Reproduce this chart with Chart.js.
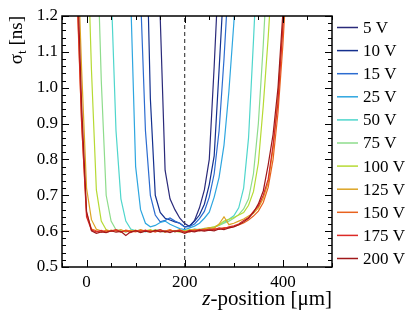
<!DOCTYPE html>
<html>
<head>
<meta charset="utf-8">
<script src="https://cdn.jsdelivr.net/npm/chart.js@4.4.1/dist/chart.umd.min.js"></script>
<style>
  html, body { margin: 0; padding: 0; background: #fff; }
  #wrap { width: 415px; height: 318px; }
</style>
</head>
<body>
<div id="wrap"><canvas id="chart" width="415" height="318"></canvas></div>
<script>
// z grid in um, shared by all bias voltages
const zPos = [-40, -30, -20, -10, 0, 10, 20, 30, 40, 50,
  60, 70, 80, 90, 100, 110, 120, 130, 140, 150,
  160, 170, 180, 190, 200, 210, 220, 230, 240, 250,
  260, 270, 280, 290, 300, 310, 320, 330, 340, 350,
  360, 370, 380, 390, 400, 410, 420, 430, 440];

const labels = ['5 V', '10 V', '15 V', '25 V', '50 V', '75 V', '100 V', '125 V', '150 V', '175 V', '200 V'];
const colors = ['#2a2a7a', '#14308e', '#2c6cd0', '#2ea6e0', '#4fd6cc', '#8edc8c', '#b6da34', '#dca424', '#e8621e', '#dc2a26', '#a0181a'];

// sigma_t [ns]
const v5 = [null, null, null, null, null, null, null, null, null, null,
  null, null, null, null, null, null, null, 2.3, 1.77, 1.2,
  0.77, 0.69, 0.66, 0.636, 0.621, 0.613, 0.630, 0.665, 0.715, 0.80,
  1.06, 1.35, 1.7, null, null, null, null, null, null, null,
  null, null, null, null, null, null, null, null, null];
const v10 = [null, null, null, null, null, null, null, null, null, null,
  null, null, null, null, null, 2.0, 1.55, 0.97, 0.70, 0.652,
  0.636, 0.631, 0.626, 0.622, 0.612, 0.615, 0.628, 0.645, 0.675, 0.73,
  0.81, 1.05, 1.3, 1.6, null, null, null, null, null, null,
  null, null, null, null, null, null, null, null, null];
const v15 = [null, null, null, null, null, null, null, null, null, null,
  null, null, null, null, 1.65, 1.26, 0.88, 0.70, 0.645, 0.626,
  0.630, 0.637, 0.628, 0.622, 0.611, 0.613, 0.620, 0.635, 0.655, 0.695,
  0.76, 0.88, 1.08, 1.32, 1.6, null, null, null, null, null,
  null, null, null, null, null, null, null, null, null];
const v25 = [null, null, null, null, null, null, null, null, null, null,
  null, null, 1.68, 1.25, 0.78, 0.66, 0.622, 0.612, 0.616, 0.624,
  0.628, 0.619, 0.613, 0.607, 0.604, 0.609, 0.614, 0.622, 0.636, 0.653,
  0.695, 0.75, 0.84, 0.99, 1.18, 1.4, 1.65, null, null, null,
  null, null, null, null, null, null, null, null, null];
const v50 = [null, null, null, null, null, null, null, null, 1.7, 1.28,
  0.88, 0.69, 0.628, 0.606, 0.601, 0.603, 0.598, 0.602, 0.600, 0.604,
  0.599, 0.602, 0.598, 0.603, 0.600, 0.603, 0.606, 0.604, 0.608, 0.607,
  0.611, 0.617, 0.624, 0.633, 0.643, 0.665, 0.72, 0.86, 1.13, 1.42,
  1.75, null, null, null, null, null, null, null, null];
const v75 = [null, null, null, null, null, 2.0, 1.48, 1.02, 0.70, 0.628,
  0.604, 0.601, 0.597, 0.603, 0.600, 0.598, 0.602, 0.599, 0.604, 0.600,
  0.597, 0.602, 0.599, 0.603, 0.596, 0.601, 0.604, 0.602, 0.606, 0.609,
  0.611, 0.616, 0.622, 0.628, 0.636, 0.646, 0.662, 0.69, 0.76, 0.90,
  1.12, 1.38, 1.7, null, null, null, null, null, null];
const v100 = [null, null, null, 2.0, 1.5, 1.05, 0.715, 0.628, 0.604, 0.600,
  0.603, 0.598, 0.602, 0.599, 0.603, 0.597, 0.601, 0.604, 0.599, 0.602,
  0.598, 0.603, 0.600, 0.597, 0.601, 0.604, 0.602, 0.606, 0.604, 0.609,
  0.612, 0.618, 0.628, 0.633, 0.638, 0.645, 0.652, 0.672, 0.710, 0.79,
  0.95, 1.14, 1.36, 1.62, null, null, null, null, null];
const v125 = [2.3, 1.85, 1.45, 1.05, 0.72, 0.632, 0.605, 0.601, 0.598, 0.603,
  0.600, 0.604, 0.598, 0.602, 0.599, 0.604, 0.600, 0.597, 0.603, 0.601,
  0.598, 0.602, 0.600, 0.604, 0.598, 0.602, 0.605, 0.603, 0.607, 0.610,
  0.608, 0.620, 0.640, 0.618, 0.622, 0.628, 0.634, 0.642, 0.650, 0.665,
  0.692, 0.735, 0.83, 0.98, 1.18, 1.43, 1.75, null, null];
const v150 = [2.1, 1.7, 1.28, 0.9, 0.65, 0.606, 0.601, 0.597, 0.603, 0.599,
  0.602, 0.597, 0.603, 0.600, 0.598, 0.603, 0.599, 0.602, 0.597, 0.603,
  0.600, 0.604, 0.598, 0.601, 0.599, 0.597, 0.603, 0.601, 0.605, 0.603,
  0.607, 0.605, 0.610, 0.609, 0.613, 0.617, 0.623, 0.631, 0.642, 0.656,
  0.680, 0.722, 0.80, 0.93, 1.12, 1.36, 1.65, null, null];
const v175 = [2.1, 1.72, 1.3, 0.9, 0.64, 0.603, 0.598, 0.602, 0.597, 0.600,
  0.604, 0.598, 0.601, 0.596, 0.602, 0.599, 0.603, 0.598, 0.600, 0.604,
  0.597, 0.601, 0.599, 0.603, 0.597, 0.602, 0.600, 0.604, 0.602, 0.606,
  0.604, 0.609, 0.607, 0.612, 0.615, 0.620, 0.630, 0.638, 0.655, 0.670,
  0.700, 0.745, 0.84, 0.96, 1.17, 1.42, 1.72, null, null];
const v200 = [2.2, 1.8, 1.37, 0.95, 0.655, 0.601, 0.594, 0.598, 0.596, 0.601,
  0.597, 0.599, 0.588, 0.598, 0.601, 0.596, 0.600, 0.597, 0.602, 0.598,
  0.600, 0.596, 0.601, 0.599, 0.594, 0.600, 0.598, 0.602, 0.600, 0.603,
  0.601, 0.606, 0.604, 0.609, 0.612, 0.618, 0.626, 0.636, 0.652, 0.676,
  0.712, 0.785, 0.87, 1.0, 1.21, 1.45, 1.75, null, null];

const allSeries = [v5, v10, v15, v25, v50, v75, v100, v125, v150, v175, v200];

// dashed marker at the center of the sensor
const centerZ = [200, 200];
const centerSigma = [0.5, 1.2];

const serif = '"Liberation Serif", "DejaVu Serif", serif';

const datasets = allSeries.map((vals, i) => ({
  label: labels[i],
  data: zPos.map((z, j) => ({ x: z, y: vals[j] })),
  borderColor: colors[i],
  borderWidth: 1.2,
  pointRadius: 0,
  tension: 0,
  order: allSeries.length - i
}));
datasets.push({
  label: 'center',
  data: centerZ.map((z, j) => ({ x: z, y: centerSigma[j] })),
  borderColor: '#222',
  borderWidth: 1,
  borderDash: [4, 3],
  pointRadius: 0,
  order: 50
});

// frame, inward ticks, axis titles and legend
const decorPlugin = {
  id: 'decor',
  afterDraw(chart) {
    const { ctx, chartArea: a, scales: { x, y } } = chart;
    ctx.save();
    ctx.strokeStyle = '#000';
    ctx.lineWidth = 1;
    ctx.beginPath();
    for (let v = -50; v <= 500; v += 50) {
      const px = Math.round(x.getPixelForValue(v)) + 0.5;
      const len = v % 200 === 0 ? 7 : 4;
      ctx.moveTo(px, a.bottom); ctx.lineTo(px, a.bottom - len);
      ctx.moveTo(px, a.top); ctx.lineTo(px, a.top + len);
    }
    for (let k = 25; k <= 60; k++) {
      const py = Math.round(y.getPixelForValue(k / 50)) + 0.5;
      const len = k % 5 === 0 ? 7 : 4;
      ctx.moveTo(a.left, py); ctx.lineTo(a.left + len, py);
      ctx.moveTo(a.right, py); ctx.lineTo(a.right - len, py);
    }
    ctx.stroke();
    ctx.lineWidth = 1.5;
    ctx.strokeRect(a.left, a.top, a.right - a.left, a.bottom - a.top);

    // x title
    ctx.fillStyle = '#000';
    ctx.textBaseline = 'alphabetic';
    ctx.textAlign = 'left';
    ctx.font = '21px ' + serif;
    const rest = '-position [\u03bcm]';
    const wRest = ctx.measureText(rest).width;
    ctx.font = 'italic 21px ' + serif;
    const wZ = ctx.measureText('z').width;
    let tx = a.right - wRest - wZ;
    ctx.fillText('z', tx, 305);
    ctx.font = '21px ' + serif;
    ctx.fillText(rest, tx + wZ, 305);

    // y title, rotated
    ctx.save();
    ctx.translate(22, a.top);
    ctx.rotate(-Math.PI / 2);
    ctx.font = '19px ' + serif;
    const wS = ctx.measureText('\u03c3').width;
    const wB = ctx.measureText(' [ns]').width;
    ctx.font = '13px ' + serif;
    const wT = ctx.measureText('t').width;
    let rx = -(wS + wT + wB);
    ctx.font = '19px ' + serif;
    ctx.fillText('\u03c3', rx, 0);
    ctx.font = '13px ' + serif;
    ctx.fillText('t', rx + wS, 4);
    ctx.font = '19px ' + serif;
    ctx.fillText(' [ns]', rx + wS + wT, 0);
    ctx.restore();

    // legend
    ctx.font = '17px ' + serif;
    ctx.textBaseline = 'middle';
    ctx.lineWidth = 1.5;
    labels.forEach((lab, i) => {
      const ly = 27.5 + i * 23.1;
      ctx.strokeStyle = colors[i];
      ctx.beginPath();
      ctx.moveTo(337, ly); ctx.lineTo(358, ly);
      ctx.stroke();
      ctx.fillText(lab, 363, ly + 1);
    });
    ctx.restore();
  }
};

new Chart(document.getElementById('chart'), {
  type: 'line',
  data: { datasets },
  options: {
    responsive: false,
    animation: false,
    devicePixelRatio: 1,
    layout: { padding: { left: 0, right: 83, top: 16, bottom: 0 } },
    plugins: { legend: { display: false }, tooltip: { enabled: false } },
    scales: {
      x: {
        type: 'linear',
        min: -50,
        max: 500,
        grid: { display: false, drawTicks: false },
        border: { display: false },
        ticks: {
          stepSize: 50,
          autoSkip: false,
          maxRotation: 0,
          padding: 5,
          color: '#000',
          font: { family: serif, size: 17 },
          callback: v => (v % 200 === 0 ? String(v) : '')
        },
        afterFit: s => { s.height = 51; }
      },
      y: {
        min: 0.5,
        max: 1.2,
        grid: { display: false, drawTicks: false },
        border: { display: false },
        ticks: {
          stepSize: 0.1,
          padding: 4,
          color: '#000',
          font: { family: serif, size: 17 }
        },
        afterFit: s => { s.width = 62; }
      }
    }
  },
  plugins: [decorPlugin]
});
</script>
</body>
</html>
